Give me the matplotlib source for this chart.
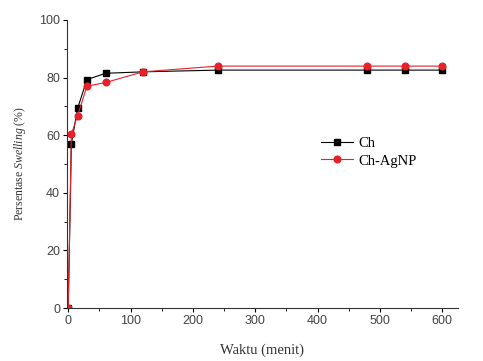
import matplotlib.pyplot as plt
from matplotlib.ticker import MultipleLocator

# swelling data (time in minutes, swelling in %)
waktu = [0, 5, 15, 30, 60, 120, 240, 480, 540, 600]
ch = [0, 57.0, 69.3, 79.3, 81.5, 82.0, 82.6, 82.6, 82.6, 82.6]
ch_agnp = [0, 60.3, 66.8, 77.0, 78.3, 82.0, 84.0, 84.0, 84.0, 84.0]

plt.rcParams["mathtext.fontset"] = "custom"
plt.rcParams["mathtext.rm"] = "Liberation Serif"
plt.rcParams["mathtext.it"] = "Liberation Serif:italic"

fig = plt.figure(figsize=(4.83, 3.61), dpi=100)
ax = fig.add_axes([0.1387, 0.1468, 0.8093, 0.7978])

ax.plot(waktu, ch, color="black", lw=0.8, marker="s", ms=4.5, label="Ch")
ax.plot(waktu, ch_agnp, color="#e8202a", lw=0.8, marker="o", ms=4.8,
        label="Ch-AgNP")

ax.set_xlim(-2, 625)
ax.set_ylim(0, 100)
ax.xaxis.set_major_locator(MultipleLocator(100))
ax.xaxis.set_minor_locator(MultipleLocator(50))
ax.yaxis.set_major_locator(MultipleLocator(20))
ax.yaxis.set_minor_locator(MultipleLocator(10))
ax.tick_params(which="major", direction="out", length=3, width=0.8,
               labelsize=9, labelcolor="#444444", pad=2)
ax.tick_params(which="minor", direction="out", length=2, width=0.6)
for lab in ax.get_xticklabels() + ax.get_yticklabels():
    lab.set_family("Liberation Sans")

for side in ["top", "right"]:
    ax.spines[side].set_visible(False)
for side in ["left", "bottom"]:
    ax.spines[side].set_linewidth(0.8)
    ax.spines[side].set_color("#333333")

ax.set_xlabel("Waktu (menit)", family="Liberation Serif", fontsize=10.5,
              color="#333333", labelpad=12)
ax.set_ylabel(r"Persentase $\it{Swelling}$ (%)", family="Liberation Serif",
              fontsize=8.5, color="#333333", labelpad=8)

leg = ax.legend(loc="upper left", bbox_to_anchor=(0.615, 0.64), frameon=False,
                prop={"family": "Liberation Serif", "size": 10.5},
                handlelength=2.2, labelspacing=0.3, handletextpad=0.4)

fig.savefig("out.png", dpi=100)
